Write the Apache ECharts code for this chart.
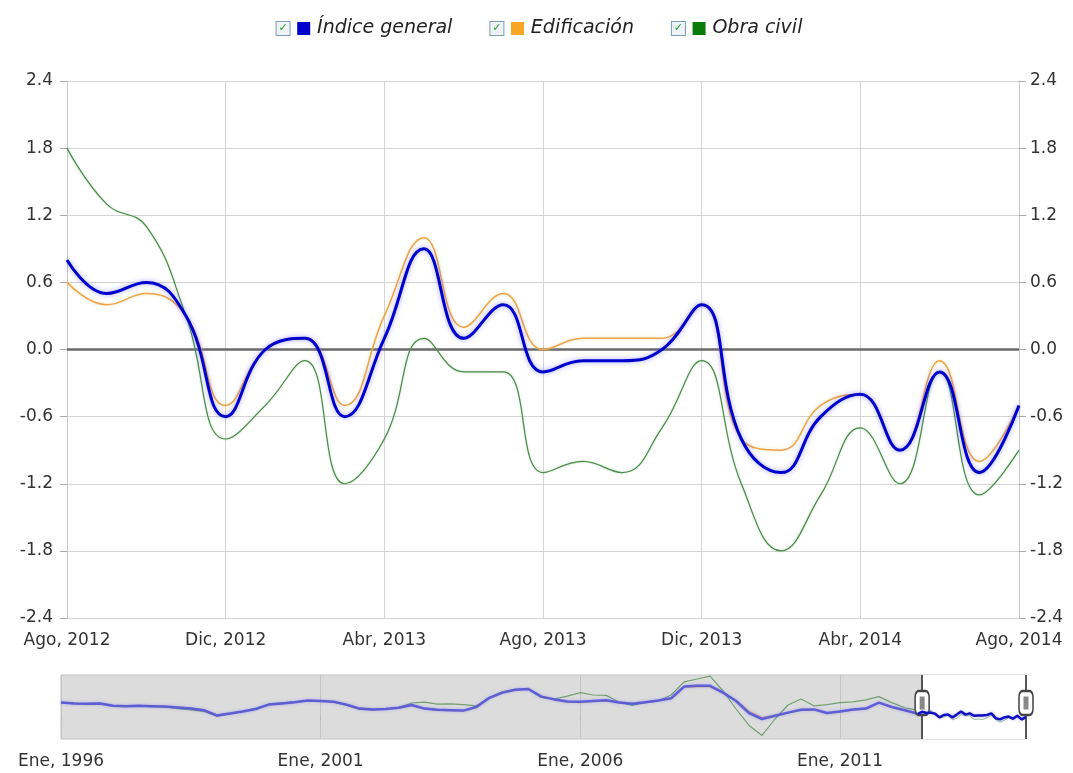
<!DOCTYPE html>
<html>
<head>
<meta charset="utf-8">
<script src="https://cdn.jsdelivr.net/npm/echarts@6/dist/echarts.min.js"></script>
<style>
html,body{margin:0;padding:0;background:#fff;}
#chart{width:1073px;height:773px;}
</style>
</head>
<body>
<div id="chart"></div>
<script>
// ---- Data ----
const months = ['Ago, 2012','Sep, 2012','Oct, 2012','Nov, 2012','Dic, 2012','Ene, 2013','Feb, 2013','Mar, 2013','Abr, 2013','May, 2013','Jun, 2013','Jul, 2013','Ago, 2013','Sep, 2013','Oct, 2013','Nov, 2013','Dic, 2013','Ene, 2014','Feb, 2014','Mar, 2014','Abr, 2014','May, 2014','Jun, 2014','Jul, 2014','Ago, 2014'];
const indiceGeneral = [0.8,0.5,0.6,0.3,-0.6,0.0,0.1,-0.6,0.1,0.9,0.1,0.4,-0.2,-0.1,-0.1,0.0,0.4,-0.8,-1.1,-0.6,-0.4,-0.9,-0.2,-1.1,-0.5];
const edificacion   = [0.6,0.4,0.5,0.3,-0.5,0.0,0.1,-0.5,0.3,1.0,0.2,0.5,0.0,0.1,0.1,0.1,0.4,-0.8,-0.9,-0.5,-0.4,-0.9,-0.1,-1.0,-0.5];
const obraCivil     = [1.8,1.3,1.1,0.3,-0.8,-0.5,-0.1,-1.2,-0.8,0.1,-0.2,-0.2,-1.1,-1.0,-1.1,-0.7,-0.1,-1.2,-1.8,-1.3,-0.7,-1.2,-0.2,-1.3,-0.9];
const yTicks = [-2.4,-1.8,-1.2,-0.6,0.0,0.6,1.2,1.8,2.4];

// Navigator history (Ene 1996 onwards, one value every 3 months)
const histStartYear = 1996;
const histStepMonths = 3;
const histBlue   = [3.1,2.9,2.8,2.9,2.3,2.2,2.3,2.2,2.1,1.9, 1.6,1.2,-0.1,0.4,0.9,1.5,2.6,2.9,3.2,3.6, 3.5,3.3,2.6,1.6,1.4,1.5,1.8,2.5,1.6,1.3, 1.2,1.1,2.0,4.3,5.6,6.3,6.5,4.6,3.9,3.4, 3.3,3.5,3.7,3.1,2.8,3.2,3.6,4.2,7.1,7.3, 7.3,5.6,3.5,0.5,-1.0,-0.2,0.6,1.3,1.4,0.5, 0.9,1.4,1.6,3.1,2.0,1.2,0.3];
const histOrange = [3.0,2.9,2.8,2.8,2.3,2.2,2.3,2.2,2.1,1.9, 1.7,1.3,0.0,0.4,0.9,1.5,2.5,2.8,3.2,3.6, 3.5,3.3,2.6,1.7,1.4,1.5,1.8,2.4,1.5,1.2, 1.1,1.0,1.9,4.3,5.6,6.3,6.5,4.7,3.9,3.3, 3.1,3.4,3.6,3.1,2.9,3.2,3.6,4.1,6.9,7.0, 7.0,5.5,3.7,1.0,-0.6,-0.1,0.5,1.2,1.3,0.4, 0.8,1.3,1.5,3.0,1.9,1.1,0.2];
const histGreen  = [3.1,2.9,2.8,2.9,2.3,2.2,2.3,2.1,2.0,1.6, 1.3,0.9,-0.3,0.3,0.9,1.6,2.7,3.0,3.3,3.6, 3.5,3.3,2.4,1.4,1.3,1.5,1.8,3.0,3.2,2.7, 2.8,2.6,2.3,4.3,5.8,6.4,6.5,4.4,4.0,4.7, 5.6,5.0,4.9,3.2,2.4,3.1,3.5,5.0,8.3,9.0, 9.7,6.0,1.5,-2.6,-5.1,-1.0,2.5,4.0,2.3,2.6, 3.1,3.3,3.8,4.6,3.1,1.8,1.2];
const windowStartMonth = 199; // Ago 2012, months after Ene 1996

const names = ['Índice general','Edificación','Obra civil'];
const colors = ['#0000cc','#f5a623','#0a7a0a'];

// ---- Build ----
const histPts = arr => arr.map((v,i)=>[i*histStepMonths, v]);
const recentPts = (arr, lastHist) => [[(histBlue.length-1)*histStepMonths, lastHist]].concat(arr.map((v,i)=>[windowStartMonth+i, v]));
const windowEnd = windowStartMonth + months.length - 1;
const navHandleY = 3;

const font = 'DejaVu Sans';
const chart = echarts.init(document.getElementById('chart'), null, {renderer:'canvas'});

const legendRich = {
  cb:{width:13,height:13,lineHeight:13,borderColor:'#7f9db9',borderWidth:1,backgroundColor:'#eef3f7',color:'#21a121',fontSize:11,align:'center',fontFamily:font,fontWeight:'bold'},
  s0:{width:13,height:13,backgroundColor:colors[0]},
  s1:{width:13,height:13,backgroundColor:colors[1]},
  s2:{width:13,height:13,backgroundColor:colors[2]},
  t:{fontStyle:'italic',fontSize:19,color:'#222',fontFamily:font,padding:[0,0,0,3]}
};

const axisFont = 17;
const option = {
  animation:false,
  backgroundColor:'#fff',
  textStyle:{fontFamily:font},
  legend:{
    top:14, left:'center', itemWidth:0, itemHeight:0, itemGap:32,
    data:names, selectedMode:false,
    formatter: name => '{cb|✓}  {s' + names.indexOf(name) + '|} {t|' + name + '}',
    textStyle:{rich:legendRich}
  },
  grid:[
    {left:67, right:54, top:81, bottom:155, show:false},
    {left:61, right:47, top:675, height:64, show:true, backgroundColor:'#dcdcdc', borderColor:'#c4c4c4', borderWidth:1}
  ],
  xAxis:[
    {type:'category', gridIndex:0, data:months, boundaryGap:false,
     axisLine:{show:true, lineStyle:{color:'#c8c8c8'}},
     axisTick:{show:false},
     axisLabel:{interval:3, fontSize:axisFont, color:'#333', margin:14, fontFamily:font},
     splitLine:{show:true, interval:3, lineStyle:{color:'#d4d4d4'}}},
    {type:'value', gridIndex:1, min:0, max:windowEnd, interval:60,
     axisLine:{show:false},
     axisTick:{show:true, length:6, lineStyle:{color:'#bbb'}},
     axisLabel:{fontSize:axisFont, color:'#333', margin:14, fontFamily:font,
       formatter: v => (v % 60 === 0) ? 'Ene, ' + (histStartYear + v/12) : ''},
     splitLine:{show:true, lineStyle:{color:'#c4c4c4'}}}
  ],
  yAxis:[
    {type:'value', gridIndex:0, min:yTicks[0], max:yTicks[yTicks.length-1], interval:0.6, position:'left',
     axisLine:{show:true, lineStyle:{color:'#c8c8c8'}},
     axisTick:{show:true, length:7, lineStyle:{color:'#aaa'}},
     axisLabel:{fontSize:axisFont, color:'#333', margin:14, formatter:v=>v.toFixed(1), fontFamily:font},
     splitLine:{show:true, lineStyle:{color:'#d4d4d4'}}},
    {type:'value', gridIndex:0, min:yTicks[0], max:yTicks[yTicks.length-1], interval:0.6, position:'right',
     axisLine:{show:true, lineStyle:{color:'#c8c8c8'}},
     axisTick:{show:true, length:7, lineStyle:{color:'#aaa'}},
     axisLabel:{fontSize:axisFont, color:'#333', margin:11, formatter:v=>v.toFixed(1), fontFamily:font},
     splitLine:{show:false}},
    {type:'value', gridIndex:1, min:-6, max:10, show:false}
  ],
  series:[
    {name:names[0], type:'line', xAxisIndex:0, yAxisIndex:0, data:indiceGeneral, smooth:0.45, symbol:'none', z:5,
     color:colors[0],
     lineStyle:{color:colors[0], width:3, shadowColor:'rgba(90,90,255,0.55)', shadowBlur:5}},
    {name:names[1], type:'line', xAxisIndex:0, yAxisIndex:0, data:edificacion, smooth:0.45, symbol:'none', z:4,
     color:colors[1],
     lineStyle:{color:'#eba54a', width:1.5, shadowColor:'rgba(245,200,120,0.6)', shadowBlur:3}},
    {name:names[2], type:'line', xAxisIndex:0, yAxisIndex:0, data:obraCivil, smooth:0.45, symbol:'none', z:3,
     color:colors[2],
     lineStyle:{color:'#4b8a4b', width:1.2, shadowColor:'rgba(120,190,120,0.5)', shadowBlur:2},
     markLine:{silent:true, symbol:'none', label:{show:false}, z:1,
       lineStyle:{color:'#6a6a6a', width:2.5, type:'solid'}, data:[{yAxis:0}]}},

    // navigator
    {name:'navWindow', type:'line', xAxisIndex:1, yAxisIndex:2, data:[], symbol:'none', silent:true,
     markArea:{silent:true, itemStyle:{color:'#ffffff'}, data:[[{xAxis:windowStartMonth},{xAxis:windowEnd}]]}},
    {name:'navG', type:'line', xAxisIndex:1, yAxisIndex:2, data:histPts(histGreen), symbol:'none', silent:true, z:3,
     lineStyle:{color:'rgba(80,140,80,0.75)', width:1.2}},
    {name:'navO', type:'line', xAxisIndex:1, yAxisIndex:2, data:histPts(histOrange), symbol:'none', silent:true, z:3,
     lineStyle:{color:'rgba(230,160,70,0.7)', width:1.2}},
    {name:'navB', type:'line', xAxisIndex:1, yAxisIndex:2, data:histPts(histBlue), symbol:'none', silent:true, z:4,
     lineStyle:{color:'rgba(85,85,215,0.9)', width:2.5, shadowColor:'rgba(110,110,255,0.5)', shadowBlur:3}},
    {name:'navG2', type:'line', xAxisIndex:1, yAxisIndex:2, data:recentPts(obraCivil, histGreen[histGreen.length-1]), symbol:'none', silent:true, z:3,
     lineStyle:{color:'rgba(80,140,80,0.6)', width:1}},
    {name:'navO2', type:'line', xAxisIndex:1, yAxisIndex:2, data:recentPts(edificacion, histOrange[histOrange.length-1]), symbol:'none', silent:true, z:3,
     lineStyle:{color:'rgba(230,160,70,0.6)', width:1}},
    {name:'navB2', type:'line', xAxisIndex:1, yAxisIndex:2, data:recentPts(indiceGeneral, histBlue[histBlue.length-1]), symbol:'none', silent:true, z:5,
     lineStyle:{color:'#1010c0', width:2.5, shadowColor:'rgba(110,110,255,0.5)', shadowBlur:3},
     markLine:{silent:true, symbol:'none', label:{show:false},
       lineStyle:{color:'#555', width:2, type:'solid'},
       data:[{xAxis:windowStartMonth},{xAxis:windowEnd}]},
     markPoint:{silent:true, label:{show:false},
       data:[
         {coord:[windowStartMonth,navHandleY], symbol:'roundRect', symbolSize:[14,24], itemStyle:{color:'#fff', borderColor:'#444', borderWidth:2}},
         {coord:[windowEnd,navHandleY], symbol:'roundRect', symbolSize:[14,24], itemStyle:{color:'#fff', borderColor:'#444', borderWidth:2}},
         {coord:[windowStartMonth,navHandleY], symbol:'rect', symbolSize:[5,13], itemStyle:{color:'#888'}},
         {coord:[windowEnd,navHandleY], symbol:'rect', symbolSize:[5,13], itemStyle:{color:'#888'}}
       ]}}
  ]
};
chart.setOption(option);
</script>
</body>
</html>
